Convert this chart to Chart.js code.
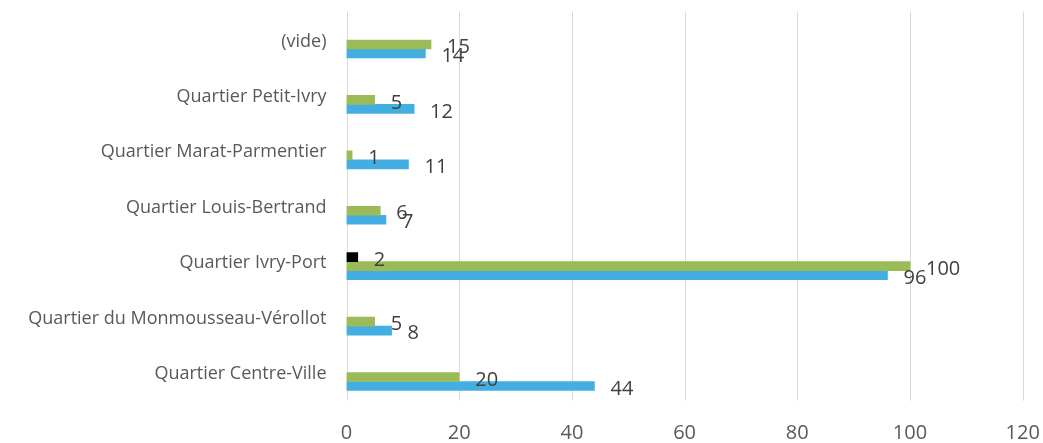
<!DOCTYPE html>
<html><head><meta charset="utf-8">
<script src="https://cdn.jsdelivr.net/npm/chart.js@4.4.1/dist/chart.umd.min.js"></script>
<style>html,body{margin:0;padding:0;background:#fff;} #wrap{width:1043px;height:443px;position:relative;}</style>
</head><body><div id="wrap"><canvas id="c" width="1043" height="443"></canvas></div>
<script>
const categories = ['(vide)', 'Quartier Petit-Ivry', 'Quartier Marat-Parmentier', 'Quartier Louis-Bertrand', 'Quartier Ivry-Port', 'Quartier du Monmousseau-Vérollot', 'Quartier Centre-Ville'];
const seriesBlack = [null, null, null, null, 2, null, null];
const seriesGreen = [15, 5, 1, 6, 100, 5, 20];
const seriesBlue = [14, 12, 11, 7, 96, 8, 44];
const xTicks = [0, 20, 40, 60, 80, 100, 120];

const FONT = "'Open Sans', 'Noto Sans', sans-serif";

const gridPlugin = {
  id: 'gridPlugin',
  beforeDatasetsDraw(chart) {
    const ctx = chart.ctx, xs = chart.scales.x, a = chart.chartArea;
    ctx.save();
    ctx.strokeStyle = '#d9d9d9';
    ctx.lineWidth = 1;
    xTicks.forEach(v => {
      const px = Math.round(xs.getPixelForValue(v)) + 0.5;
      ctx.beginPath();
      ctx.moveTo(px, a.top - 5);
      ctx.lineTo(px, a.bottom - 4);
      ctx.stroke();
    });
    ctx.restore();
  }
};

const labelPlugin = {
  id: 'labelPlugin',
  afterDatasetsDraw(chart) {
    const ctx = chart.ctx;
    ctx.save();
    ctx.font = '20px ' + FONT;
    ctx.fillStyle = '#404040';
    ctx.textAlign = 'left';
    ctx.textBaseline = 'middle';
    chart.data.datasets.forEach((ds, di) => {
      const meta = chart.getDatasetMeta(di);
      meta.data.forEach((el, i) => {
        const v = ds.data[i];
        if (v === null || v === undefined) return;
        ctx.fillText(String(v), el.x + 16, el.y + 3);
      });
    });
    ctx.restore();
  }
};

new Chart(document.getElementById('c'), {
  type: 'bar',
  data: {
    labels: categories,
    datasets: [
      { label: 'Série 3', data: seriesBlack, backgroundColor: '#000000', barThickness: 9 },
      { label: 'Série 2', data: seriesGreen, backgroundColor: '#9bbb59', barThickness: 9 },
      { label: 'Série 1', data: seriesBlue, backgroundColor: '#43aee1', barThickness: 9 }
    ]
  },
  options: {
    indexAxis: 'y',
    responsive: false,
    animation: false,
    devicePixelRatio: 1,
    layout: { padding: { top: 16.8, right: 20.3, bottom: 0, left: 0 } },
    plugins: { legend: { display: false }, tooltip: { enabled: false } },
    scales: {
      x: {
        type: 'linear', min: 0, max: 120,
        afterBuildTicks: s => { s.ticks = xTicks.map(v => ({ value: v })); },
        ticks: { font: { family: FONT, size: 20 }, color: '#595959', padding: 9, maxRotation: 0 },
        grid: { display: false },
        border: { display: false },
        afterFit: s => { s.height = 38.3; s.paddingLeft = 0; s.paddingRight = 0; }
      },
      y: {
        type: 'category',
        ticks: { font: { family: FONT, size: 18 }, color: '#595959', padding: 12, labelOffset: -3, autoSkip: false },
        grid: { display: false },
        border: { display: false },
        afterFit: s => { s.width = 346.5; s.paddingTop = 0; s.paddingBottom = 0; }
      }
    }
  },
  plugins: [gridPlugin, labelPlugin]
});
</script>
</body></html>
